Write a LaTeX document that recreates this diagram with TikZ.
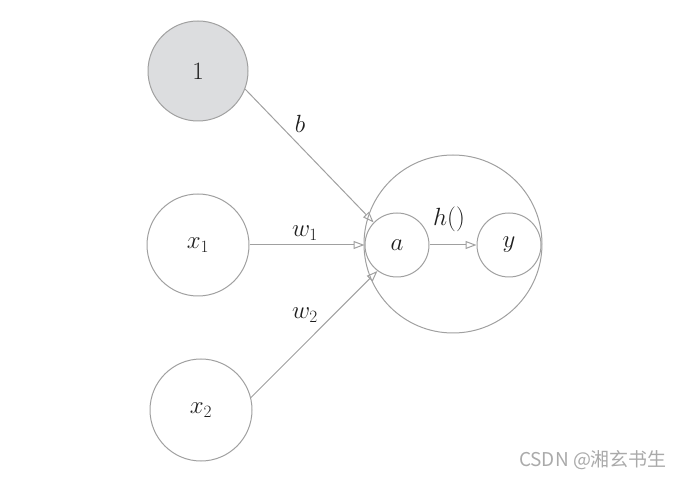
\documentclass[tikz,border=0pt]{standalone}
\usepackage{fontspec}
\newfontfamily\cjk{Noto Sans CJK SC}
\usetikzlibrary{arrows.meta}
\definecolor{linegray}{RGB}{160,160,160}
\definecolor{fillgray}{RGB}{220,221,223}
\definecolor{wmgray}{RGB}{170,170,170}
\definecolor{textcol}{RGB}{30,30,30}
\begin{document}
\begin{tikzpicture}[x=1pt,y=-1pt,
  neuron/.style={circle,draw=linegray,line width=1pt,inner sep=0pt,text=textcol,font=\fontsize{25}{30}\selectfont},
  conn/.style={draw=linegray,line width=1pt,-{Triangle[open,length=11pt,width=8pt]}},
  lbl/.style={text=textcol,font=\fontsize{25}{30}\selectfont}]
\useasboundingbox (0,0) rectangle (683,478);
\node[neuron,fill=fillgray,minimum size=100pt] (one) at (198,71) {1};
\node[neuron,minimum size=102pt] (x1) at (198,245) {$x_1$};
\node[neuron,minimum size=102pt] (x2) at (201,410) {$x_2$};
\node[neuron,minimum size=178pt] (big) at (453,244) {};
\node[neuron,minimum size=64pt] (a) at (397,245) {$a$};
\node[neuron,minimum size=64pt] (y) at (509,245) {$y$};
\draw[conn] (one.-21) -- (a.136);
\draw[conn] (x1) -- (a);
\draw[conn] (x2.14) -- (a.233);
\draw[conn] (a) -- (y);
\node[lbl] (lb) at (300,124) {$b$};
\node[lbl] (lw1) at (305,233) {$w_1$};
\node[lbl] (lw2) at (305,315) {$w_2$};
\node[lbl] (lh) at (449,219) {$h()$};
\node[text=wmgray,font=\cjk\fontsize{19}{22}\selectfont] (wm) at (593,460) {CSDN @湘玄书生};
\end{tikzpicture}
\end{document}
